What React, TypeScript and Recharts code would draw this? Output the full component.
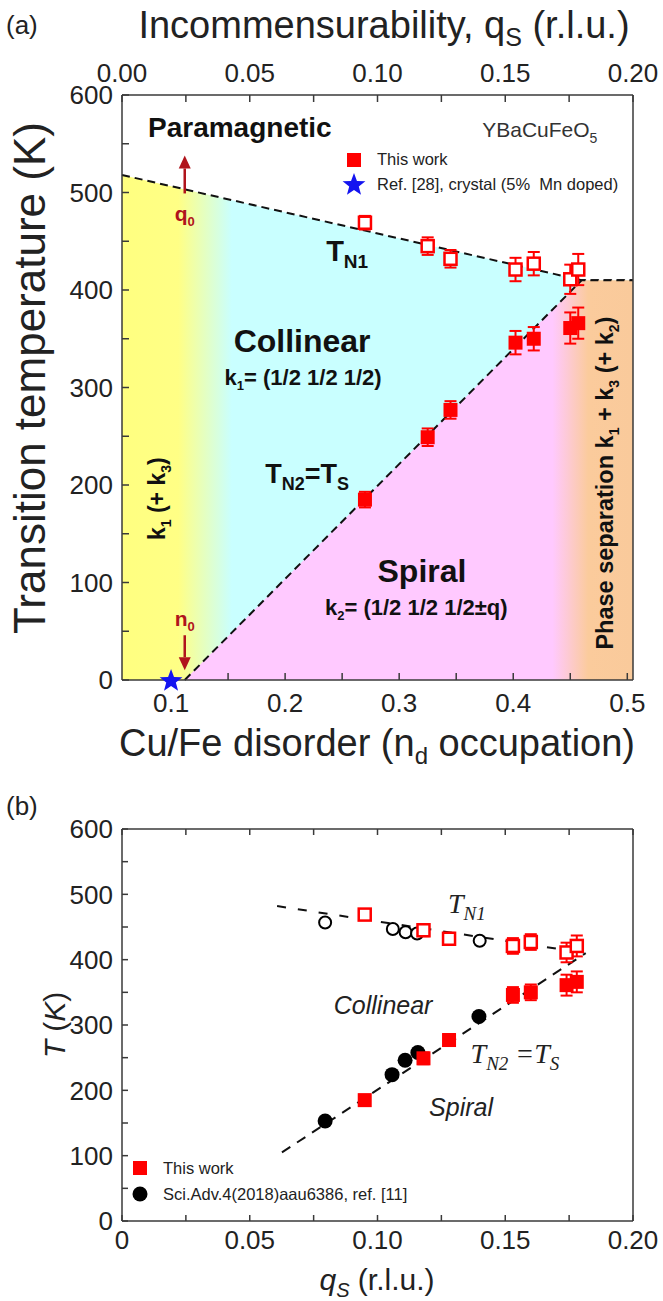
import React from "react";
import {
  ComposedChart,
  Area,
  Line,
  Scatter,
  ErrorBar,
  XAxis,
  YAxis,
  ReferenceDot,
  Legend,
} from "recharts";

const SANS = "'Liberation Sans', Arial, sans-serif";
const SERIF = "'Liberation Serif', 'Times New Roman', serif";
const RED = "#ff0000";
const DARKRED = "#b0141c";
const BLUE = "#1414f0";
const AXIS = "#3a3a3a";

// samples of this work: Cu/Fe disorder, incommensurability, transitions
const ndSamples = [0.27, 0.325, 0.345, 0.402, 0.418, 0.45, 0.457];
const qSamples = [0.095, 0.118, 0.128, 0.153, 0.16, 0.174, 0.178];
const tn1 = [469, 445, 432, 421, 427, 411, 421];
const tn1Err = [7, 9, 9, 12, 12, 15, 16];
const tn2 = [185, 249, 277, 346, 350, 361, 366];
const tn2Err = [8, 9, 9, 12, 12, 16, 16];

// Sci. Adv. 4 (2018) aau6386, ref. [11]
const qRefN1 = [0.0795, 0.106, 0.111, 0.1155, 0.14];
const tn1Ref = [457, 447, 442, 440, 429];
const qRefN2 = [0.0795, 0.1057, 0.1108, 0.1158, 0.1397];
const tn2Ref = [153, 224, 246, 258, 313];

// ref. [28] crystal (5% Mn doped)
const ndStar = [0.1];
const tStar = [0];

// phase boundaries of panel (a)
const ndBoundary = [0.057, 0.112, 0.46, 0.505];
const tn1Boundary = [518, null, 410, 410];
const tn2Boundary = [null, 0, 410, 410];

// guide lines of panel (b)
const qGuide = [0.0607, 0.0626, 0.1815];
const tn1Guide = [482, null, 410];
const tn2Guide = [null, 105, 410];

// ticks
const ndTicks = [0.1, 0.15, 0.2, 0.25, 0.3, 0.35, 0.4, 0.45, 0.5];
const qTicks = [0, 0.025, 0.05, 0.075, 0.1, 0.125, 0.15, 0.175, 0.2];
const tTicks = [0, 50, 100, 150, 200, 250, 300, 350, 400, 450, 500, 550, 600];

const rowsA = ndBoundary.map((x, i) => ({ x, b1: tn1Boundary[i], b2: tn2Boundary[i] }));
const rowsB = qGuide.map((x, i) => ({ x, l1: tn1Guide[i], l2: tn2Guide[i] }));
const pts = (xs: number[], ys: number[], es?: number[]) =>
  xs.map((x, i) => ({ x, y: ys[i], e: es ? es[i] : 0 }));

const tickStyle = { fontSize: 26, fill: "#222", fontFamily: SANS };
const isMult = (v: number, step: number) => Math.abs(Math.round(v / step) * step - v) < 1e-6;

const openSquare = (p: any) => (
  <rect x={p.cx - 6} y={p.cy - 6} width={12} height={12} fill="#fff" stroke={RED} strokeWidth={2.5} />
);
const fullSquare = (p: any) => <rect x={p.cx - 7} y={p.cy - 7} width={14} height={14} fill={RED} />;
const openCircle = (p: any) => <circle cx={p.cx} cy={p.cy} r={6} fill="#fff" stroke="#000" strokeWidth={2} />;
const fullCircle = (p: any) => <circle cx={p.cx} cy={p.cy} r={7.5} fill="#000" />;

function starPoints(cx: number, cy: number, R: number) {
  const out: string[] = [];
  for (let i = 0; i < 10; i++) {
    const rad = i % 2 === 0 ? R : R * 0.42;
    const a = -Math.PI / 2 + (i * Math.PI) / 5;
    out.push(`${cx + rad * Math.cos(a)},${cy + rad * Math.sin(a)}`);
  }
  return out.join(" ");
}
const star = (p: any) => <polygon points={starPoints(p.cx, p.cy + 1, 12)} fill={BLUE} />;

// text annotation anchored at data coordinates (y = baseline)
function note(key: string, x: number, y: number, ax: string, ay: string, render: (cx: number, cy: number) => any) {
  return (
    <ReferenceDot
      key={key}
      x={x}
      y={y}
      xAxisId={ax}
      yAxisId={ay}
      r={0}
      ifOverflow="visible"
      shape={(p: any) => <g>{render(p.cx, p.cy)}</g>}
    />
  );
}

const boldA = { fontFamily: SANS, fontWeight: 700, fill: "#111" } as const;

function arrow(cx: number, cy: number, dir: number, len: number) {
  // tip at (cx, cy); dir = -1 points up, 1 points down
  const base = cy - dir * 13;
  return (
    <g>
      <line x1={cx} y1={cy - dir * len} x2={cx} y2={base} stroke={DARKRED} strokeWidth={2.5} />
      <polygon points={`${cx},${cy} ${cx - 6},${base} ${cx + 6},${base}`} fill={DARKRED} />
    </g>
  );
}

function LegendA() {
  return (
    <div style={{ fontFamily: SANS, fontSize: 16.5, color: "#222", lineHeight: "25px" }}>
      <div style={{ display: "flex", alignItems: "center" }}>
        <svg width={30} height={20}>
          <rect x={7} y={3} width={14} height={14} fill={RED} />
        </svg>
        <span style={{ marginLeft: 7 }}>This work</span>
      </div>
      <div style={{ display: "flex", alignItems: "center" }}>
        <svg width={30} height={25}>
          <polygon points={starPoints(14, 13, 12)} fill={BLUE} />
        </svg>
        <span style={{ marginLeft: 7 }}>Ref. [28], crystal (5%&nbsp; Mn doped)</span>
      </div>
    </div>
  );
}

function LegendB() {
  return (
    <div style={{ fontFamily: SANS, fontSize: 16.5, color: "#222", lineHeight: "26px" }}>
      <div style={{ display: "flex", alignItems: "center" }}>
        <svg width={30} height={20}>
          <rect x={7} y={3} width={14} height={14} fill={RED} />
        </svg>
        <span style={{ marginLeft: 7 }}>This work</span>
      </div>
      <div style={{ display: "flex", alignItems: "center" }}>
        <svg width={30} height={20}>
          <circle cx={14} cy={10} r={7.5} fill="#000" />
        </svg>
        <span style={{ marginLeft: 7 }}>Sci.Adv.4(2018)aau6386, ref. [11]</span>
      </div>
    </div>
  );
}

const abs = (s: React.CSSProperties): React.CSSProperties => ({
  position: "absolute",
  whiteSpace: "nowrap",
  fontFamily: SANS,
  color: "#222",
  lineHeight: 1,
  ...s,
});

export default function App() {
  return (
    <div style={{ position: "absolute", left: 0, top: 0, width: 663, height: 1301, background: "#fff", overflow: "hidden" }}>
      {/* ---------- panel (a) ---------- */}
      <div style={{ position: "absolute", left: 0, top: 0 }}>
        <ComposedChart width={663} height={760} data={rowsA} margin={{ top: 55, right: 20, bottom: 40, left: 62 }}>
          <defs>
            <linearGradient id="gradTop" x1="0" y1="0" x2="1" y2="0">
              <stop offset="0" stopColor="#ffff80" />
              <stop offset="0.11" stopColor="#ffff85" />
              <stop offset="0.215" stopColor="#c9ffff" />
              <stop offset="1" stopColor="#c9ffff" />
            </linearGradient>
            <linearGradient id="gradBottom" x1="0" y1="0" x2="1" y2="0">
              <stop offset="0" stopColor="#ffc9ff" />
              <stop offset="0.82" stopColor="#ffc9ff" />
              <stop offset="0.9" stopColor="#fbcb9c" />
              <stop offset="1" stopColor="#f9ca9b" />
            </linearGradient>
          </defs>
          <XAxis
            xAxisId="nd"
            dataKey="x"
            type="number"
            domain={[0.057, 0.505]}
            ticks={ndTicks}
            interval={0}
            tickFormatter={(v: number) => (isMult(v, 0.1) ? v.toFixed(1) : "")}
            tickSize={-7}
            tickMargin={21}
            height={40}
            stroke={AXIS}
            strokeWidth={1.5}
            tick={tickStyle}
          />
          <XAxis
            xAxisId="q"
            dataKey="x"
            orientation="top"
            type="number"
            domain={[0, 0.2]}
            allowDataOverflow
            ticks={qTicks}
            interval={0}
            tickFormatter={(v: number) => (isMult(v, 0.05) ? v.toFixed(2) : "")}
            tickSize={-7}
            tickMargin={20}
            height={40}
            stroke={AXIS}
            strokeWidth={1.5}
            tick={tickStyle}
          />
          <YAxis
            yAxisId="t"
            type="number"
            domain={[0, 600]}
            ticks={tTicks}
            interval={0}
            tickFormatter={(v: number) => (isMult(v, 100) ? String(v) : "")}
            tickSize={-7}
            tickMargin={16}
            width={60}
            stroke={AXIS}
            strokeWidth={1.5}
            tick={tickStyle}
          />
          <YAxis
            yAxisId="r"
            orientation="right"
            type="number"
            domain={[0, 600]}
            ticks={tTicks}
            interval={0}
            tickFormatter={() => ""}
            tickSize={-7}
            width={10}
            stroke={AXIS}
            strokeWidth={1.5}
          />
          <Area
            xAxisId="nd"
            yAxisId="t"
            type="linear"
            dataKey="b1"
            connectNulls
            fill="url(#gradTop)"
            fillOpacity={1}
            stroke="#111"
            strokeWidth={2}
            strokeDasharray="8 5"
            dot={false}
            activeDot={false}
            isAnimationActive={false}
          />
          <Area
            xAxisId="nd"
            yAxisId="t"
            type="linear"
            dataKey="b2"
            connectNulls
            fill="url(#gradBottom)"
            fillOpacity={1}
            stroke="#111"
            strokeWidth={2}
            strokeDasharray="8 5"
            dot={false}
            activeDot={false}
            isAnimationActive={false}
          />
          <Scatter xAxisId="nd" yAxisId="t" data={pts(ndSamples, tn1, tn1Err)} dataKey="y" shape={openSquare} isAnimationActive={false}>
            <ErrorBar dataKey="e" direction="y" width={6} stroke={RED} strokeWidth={2} />
          </Scatter>
          <Scatter xAxisId="nd" yAxisId="t" data={pts(ndSamples, tn2, tn2Err)} dataKey="y" shape={fullSquare} isAnimationActive={false}>
            <ErrorBar dataKey="e" direction="y" width={6} stroke={RED} strokeWidth={2} />
          </Scatter>
          <Scatter xAxisId="nd" yAxisId="t" data={pts(ndStar, tStar)} dataKey="y" shape={star} isAnimationActive={false} />

          {note("para", 0.0798, 557, "nd", "t", (x, y) => (
            <text x={x} y={y} fontSize={28} {...boldA}>Paramagnetic</text>
          ))}
          {note("ybco", 0.3728, 557, "nd", "t", (x, y) => (
            <text x={x} y={y} fontSize={21} fontFamily={SANS} fill="#333">
              YBaCuFeO<tspan dy={6} fontSize={14}>5</tspan>
            </text>
          ))}
          {note("tn1", 0.2544, 430, "nd", "t", (x, y) => (
            <text x={x} y={y} fontSize={29} textAnchor="middle" {...boldA}>
              T<tspan dy={7} fontSize={19}>N1</tspan>
            </text>
          ))}
          {note("col", 0.2149, 336, "nd", "t", (x, y) => (
            <text x={x} y={y} fontSize={32} textAnchor="middle" {...boldA}>Collinear</text>
          ))}
          {note("k1", 0.2158, 303, "nd", "t", (x, y) => (
            <text x={x} y={y} fontSize={22} textAnchor="middle" {...boldA}>
              k<tspan dy={5} fontSize={13}>1</tspan>
              <tspan dy={-5}>= (1/2 1/2 1/2)</tspan>
            </text>
          ))}
          {note("tn2", 0.2194, 202, "nd", "t", (x, y) => (
            <text x={x} y={y} fontSize={27} textAnchor="middle" {...boldA}>
              T<tspan dy={7} fontSize={18}>N2</tspan>
              <tspan dy={-7}>=T</tspan>
              <tspan dy={7} fontSize={18}>S</tspan>
            </text>
          ))}
          {note("spi", 0.32, 101, "nd", "t", (x, y) => (
            <text x={x} y={y} fontSize={32} textAnchor="middle" {...boldA}>Spiral</text>
          ))}
          {note("k2", 0.315, 67, "nd", "t", (x, y) => (
            <text x={x} y={y} fontSize={22} textAnchor="middle" {...boldA}>
              k<tspan dy={5} fontSize={13}>2</tspan>
              <tspan dy={-5}>= (1/2 1/2 1/2±q)</tspan>
            </text>
          ))}
          {note("k1k3", 0.0877, 186, "nd", "t", (x, y) => (
            <text x={x} y={y} dy={8} fontSize={23} textAnchor="middle" transform={`rotate(-90 ${x} ${y})`} {...boldA}>
              k<tspan dy={6} fontSize={14}>1</tspan>
              <tspan dy={-6}> (+ k</tspan>
              <tspan dy={6} fontSize={14}>3</tspan>
              <tspan dy={-6}>)</tspan>
            </text>
          ))}
          {note("phase", 0.4807, 202, "nd", "t", (x, y) => (
            <text x={x} y={y} dy={8} fontSize={23.5} textAnchor="middle" transform={`rotate(-90 ${x} ${y})`} {...boldA}>
              Phase separation{"  "}k<tspan dy={6} fontSize={14}>1</tspan>
              <tspan dy={-6}> + k</tspan>
              <tspan dy={6} fontSize={14}>3</tspan>
              <tspan dy={-6}> (+ k</tspan>
              <tspan dy={6} fontSize={14}>2</tspan>
              <tspan dy={-6}>)</tspan>
            </text>
          ))}
          {note("q0arrow", 0.112, 538, "nd", "t", (x, y) => arrow(x, y, -1, 38))}
          {note("q0", 0.112, 471, "nd", "t", (x, y) => (
            <text x={x} y={y} fontSize={21} textAnchor="middle" fontFamily={SANS} fontWeight={700} fill={DARKRED}>
              q<tspan dy={5} fontSize={13}>0</tspan>
            </text>
          ))}
          {note("n0", 0.112, 55, "nd", "t", (x, y) => (
            <text x={x} y={y} fontSize={21} textAnchor="middle" fontFamily={SANS} fontWeight={700} fill={DARKRED}>
              n<tspan dy={5} fontSize={13}>0</tspan>
            </text>
          ))}
          {note("n0arrow", 0.112, 10, "nd", "t", (x, y) => arrow(x, y, 1, 35))}

          <Legend
            layout="vertical"
            align="center"
            verticalAlign="middle"
            content={() => <LegendA />}
            wrapperStyle={{ left: 340, top: 147, width: "auto" }}
          />
        </ComposedChart>
      </div>

      {/* ---------- panel (b) ---------- */}
      <div style={{ position: "absolute", left: 0, top: 760 }}>
        <ComposedChart width={663} height={541} data={rowsB} margin={{ top: 39, right: 20, bottom: 40, left: 62 }}>
          <XAxis
            xAxisId="q"
            dataKey="x"
            type="number"
            domain={[0, 0.2]}
            ticks={qTicks}
            interval={0}
            tickFormatter={(v: number) => (v === 0 ? "0" : isMult(v, 0.05) ? v.toFixed(2) : "")}
            tickSize={-6}
            tickMargin={16}
            height={40}
            stroke={AXIS}
            strokeWidth={1.5}
            tick={tickStyle}
          />
          <XAxis
            xAxisId="top"
            dataKey="x"
            orientation="top"
            type="number"
            domain={[0, 0.2]}
            ticks={qTicks}
            interval={0}
            tickFormatter={() => ""}
            tickSize={-6}
            height={30}
            stroke={AXIS}
            strokeWidth={1.5}
          />
          <YAxis
            yAxisId="t"
            type="number"
            domain={[0, 600]}
            ticks={tTicks}
            interval={0}
            tickFormatter={(v: number) => (isMult(v, 100) ? String(v) : "")}
            tickSize={-6}
            tickMargin={15}
            width={60}
            stroke={AXIS}
            strokeWidth={1.5}
            tick={tickStyle}
          />
          <YAxis
            yAxisId="r"
            orientation="right"
            type="number"
            domain={[0, 600]}
            ticks={tTicks}
            interval={0}
            tickFormatter={() => ""}
            tickSize={-6}
            width={10}
            stroke={AXIS}
            strokeWidth={1.5}
          />
          <Line
            xAxisId="q"
            yAxisId="t"
            type="linear"
            dataKey="l1"
            connectNulls
            stroke="#111"
            strokeWidth={2}
            strokeDasharray="9 12"
            dot={false}
            activeDot={false}
            isAnimationActive={false}
          />
          <Line
            xAxisId="q"
            yAxisId="t"
            type="linear"
            dataKey="l2"
            connectNulls
            stroke="#111"
            strokeWidth={2}
            strokeDasharray="10 8"
            dot={false}
            activeDot={false}
            isAnimationActive={false}
          />
          <Scatter xAxisId="q" yAxisId="t" data={pts(qRefN1, tn1Ref)} dataKey="y" shape={openCircle} isAnimationActive={false} />
          <Scatter xAxisId="q" yAxisId="t" data={pts(qRefN2, tn2Ref)} dataKey="y" shape={fullCircle} isAnimationActive={false} />
          <Scatter xAxisId="q" yAxisId="t" data={pts(qSamples, tn1, tn1Err)} dataKey="y" shape={openSquare} isAnimationActive={false}>
            <ErrorBar dataKey="e" direction="y" width={6} stroke={RED} strokeWidth={2} />
          </Scatter>
          <Scatter xAxisId="q" yAxisId="t" data={pts(qSamples, tn2, tn2Err)} dataKey="y" shape={fullSquare} isAnimationActive={false}>
            <ErrorBar dataKey="e" direction="y" width={6} stroke={RED} strokeWidth={2} />
          </Scatter>

          {note("btn1", 0.135, 471, "q", "t", (x, y) => (
            <text x={x} y={y} fontSize={28} textAnchor="middle" fontFamily={SERIF} fontStyle="italic" fill="#222">
              T<tspan dy={7} fontSize={19}>N1</tspan>
            </text>
          ))}
          {note("bcol", 0.1022, 317, "q", "t", (x, y) => (
            <text x={x} y={y} fontSize={25} textAnchor="middle" fontFamily={SANS} fontStyle="italic" fill="#222">
              Collinear
            </text>
          ))}
          {note("btn2", 0.1538, 242, "q", "t", (x, y) => (
            <text x={x} y={y} fontSize={28} textAnchor="middle" fontFamily={SERIF} fontStyle="italic" fill="#222">
              T<tspan dy={7} fontSize={19}>N2</tspan>
              <tspan dy={-7}> =T</tspan>
              <tspan dy={7} fontSize={19}>S</tspan>
            </text>
          ))}
          {note("bspi", 0.1327, 161, "q", "t", (x, y) => (
            <text x={x} y={y} fontSize={25} textAnchor="middle" fontFamily={SANS} fontStyle="italic" fill="#222">
              Spiral
            </text>
          ))}

          <Legend
            layout="vertical"
            align="center"
            verticalAlign="middle"
            content={() => <LegendB />}
            wrapperStyle={{ left: 126, top: 395, width: "auto" }}
          />
        </ComposedChart>
      </div>

      {/* ---------- titles ---------- */}
      <div style={abs({ left: 6, top: 12, fontSize: 26 })}>(a)</div>
      <div style={abs({ left: 384, top: 28, fontSize: 38, transform: "translate(-50%, -50%)" })}>
        Incommensurability, q<sub style={{ fontSize: 25 }}>S</sub> (r.l.u.)
      </div>
      <div style={abs({ left: 30, top: 378, fontSize: 44, transform: "translate(-50%, -50%) rotate(-90deg)" })}>
        Transition temperature (K)
      </div>
      <div style={abs({ left: 377, top: 746, fontSize: 38, transform: "translate(-50%, -50%)" })}>
        Cu/Fe disorder (n<sub style={{ fontSize: 24 }}>d</sub> occupation)
      </div>
      <div style={abs({ left: 6, top: 793, fontSize: 26 })}>(b)</div>
      <div style={abs({ left: 55, top: 1025, fontSize: 30, transform: "translate(-50%, -50%) rotate(-90deg)" })}>
        <i>T</i> (<i>K</i>)
      </div>
      <div style={abs({ left: 377, top: 1282, fontSize: 30, transform: "translate(-50%, -50%)" })}>
        <i>q</i>
        <sub style={{ fontSize: 20 }}>
          <i>S</i>
        </sub>{" "}
        (r.l.u.)
      </div>
    </div>
  );
}
